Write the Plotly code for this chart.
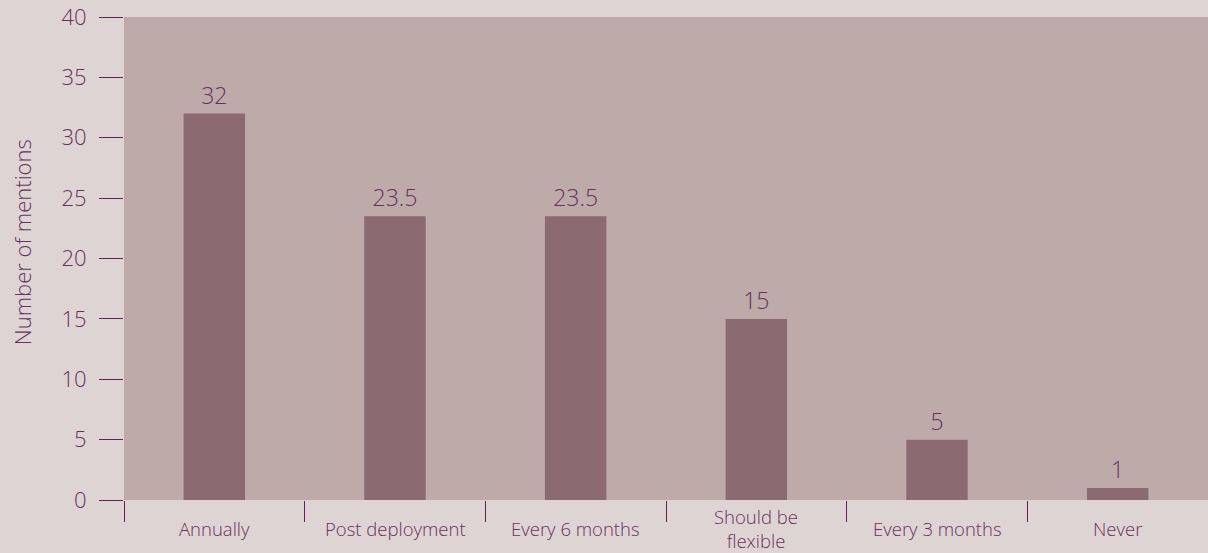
import plotly.graph_objects as go

categories = ["Annually", "Post deployment", "Every 6 months", "Should be<br>flexible", "Every 3 months", "Never"]
mentions = [32, 23.5, 23.5, 15, 5, 1]
label_text = ["32", "23.5", "23.5", "15", "5", "1"]
y_ticks = [0, 5, 10, 15, 20, 25, 30, 35, 40]

TEXT = "#66325c"
TICK = "#5e2352"
FONT = "Open Sans"

fig = go.Figure(go.Bar(
    x=categories, y=mentions, text=label_text,
    textposition="outside", cliponaxis=False,
    textfont=dict(family=FONT, size=23, color=TEXT, weight=300),
    marker=dict(color="#8b6a71", line=dict(width=0)),
    width=0.34, hoverinfo="skip",
))

annotations = [
    dict(x=c, y=-0.06, xref="x", yref="paper", text=c, showarrow=False,
         xanchor="center", yanchor="middle",
         font=dict(family=FONT, size=18.5, color=TEXT, weight=300))
    for c in categories
]
annotations.append(dict(x=-0.094, y=0.534, xref="paper", yref="paper", text="Number of mentions",
                        textangle=-90, showarrow=False, xanchor="center", yanchor="middle",
                        font=dict(family=FONT, size=22, color=TEXT, weight=300)))

fig.update_layout(
    width=1208, height=553,
    margin=dict(l=124, r=0, t=17, b=53),
    paper_bgcolor="#dfd4d4", plot_bgcolor="#bdaaa9",
    showlegend=False, bargap=0.66,
    annotations=annotations,
    font=dict(family=FONT, color=TEXT),
)
fig.update_xaxes(
    type="category", tickson="boundaries", ticks="outside", ticklen=21,
    tickcolor=TICK, tickwidth=1.3, showticklabels=False, showgrid=False,
    showline=False, zeroline=False,
)
fig.update_yaxes(
    range=[0, 40], tickvals=y_ticks, ticks="outside", ticklen=24,
    tickcolor=TICK, tickwidth=1.3, showgrid=False, zeroline=False, showline=False,
    tickfont=dict(family=FONT, size=22, color=TEXT, weight=300), ticklabelstandoff=8,
)
fig.write_html(
    "out.html",
    config={"displayModeBar": False},
    post_script="document.body.style.margin='0';document.body.style.background='#dfd4d4';",
)
